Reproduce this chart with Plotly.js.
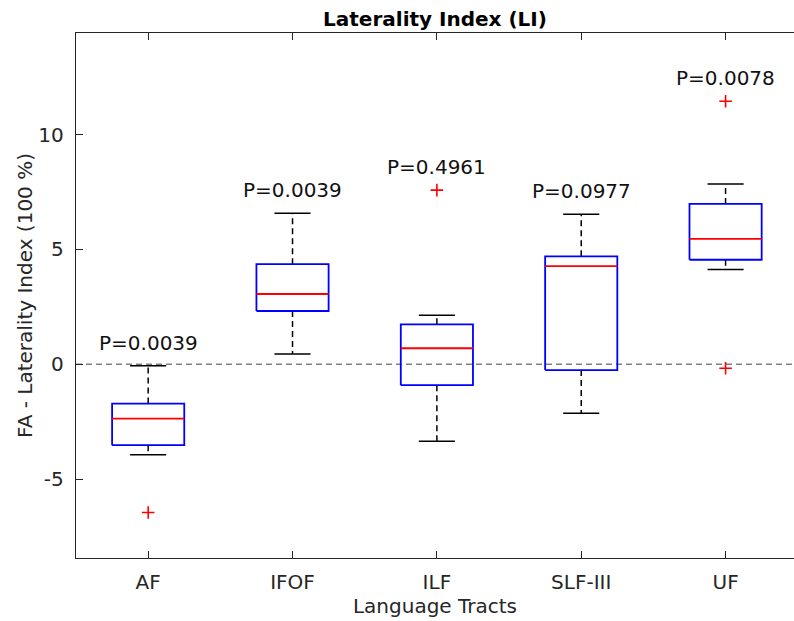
<!DOCTYPE html>
<html>
<head>
<meta charset="utf-8">
<script src="https://cdn.plot.ly/plotly-3.0.1.min.js"></script>
<style>html,body{margin:0;padding:0;background:#fff;}#chart{width:794px;height:621px;}</style>
</head>
<body>
<div id="chart"></div>
<script>
// ---- data ----
const categories = ['AF', 'IFOF', 'ILF', 'SLF-III', 'UF'];
const q1 = [-3.52, 2.32, -0.91, -0.25, 4.55];
const medians = [-2.36, 3.06, 0.70, 4.27, 5.46];
const q3 = [-1.71, 4.36, 1.74, 4.70, 6.98];
const lowerWhisker = [-3.94, 0.45, -3.35, -2.13, 4.13];
const upperWhisker = [-0.06, 6.58, 2.14, 6.53, 7.85];
const outlierCategory = ['AF', 'ILF', 'UF', 'UF'];
const outlierValue = [-6.45, 7.58, 11.45, -0.17];
const pLabels = ['P=0.0039', 'P=0.0039', 'P=0.4961', 'P=0.0977', 'P=0.0078'];
const yTickVals = [-5, 0, 5, 10];
const yTickText = ['-5', '0', '5', '10'];

// ---- build marks ----
const pos = categories.map((c, i) => i + 1);
const halfBox = 0.25, halfCap = 0.125;

const boxX = [], boxY = [], medX = [], medY = [], whX = [], whY = [], capX = [], capY = [];
pos.forEach((p, i) => {
  boxX.push(p - halfBox, p + halfBox, p + halfBox, p - halfBox, p - halfBox, null);
  boxY.push(q1[i], q1[i], q3[i], q3[i], q1[i], null);
  medX.push(p - halfBox, p + halfBox, null);
  medY.push(medians[i], medians[i], null);
  whX.push(p, p, null, p, p, null);
  whY.push(q3[i], upperWhisker[i], null, q1[i], lowerWhisker[i], null);
  capX.push(p - halfCap, p + halfCap, null, p - halfCap, p + halfCap, null);
  capY.push(upperWhisker[i], upperWhisker[i], null, lowerWhisker[i], lowerWhisker[i], null);
});
const outX = outlierCategory.map(c => categories.indexOf(c) + 1);

const traces = [
  {x: whX, y: whY, mode: 'lines', line: {color: '#000', width: 1.5, dash: '6px,4px'}, hoverinfo: 'skip', showlegend: false},
  {x: capX, y: capY, mode: 'lines', line: {color: '#000', width: 1.5}, hoverinfo: 'skip', showlegend: false},
  {x: boxX, y: boxY, mode: 'lines', line: {color: '#0000ff', width: 1.8}, hoverinfo: 'skip', showlegend: false},
  {x: medX, y: medY, mode: 'lines', line: {color: '#ff0000', width: 1.8}, hoverinfo: 'skip', showlegend: false},
  {x: outX, y: outlierValue, mode: 'markers', marker: {symbol: 'cross-thin', size: 9, line: {color: '#ff0000', width: 1.6}}, hoverinfo: 'skip', showlegend: false}
];

// annotation heights: 1 unit above the highest mark of each group
const annotations = pos.map((p, i) => {
  let top = upperWhisker[i];
  outlierValue.forEach((v, k) => { if (outX[k] === p && v > top) top = v; });
  return {x: p, y: top + 1.0, xref: 'x', yref: 'y', text: pLabels[i], showarrow: false,
          yanchor: 'middle', xanchor: 'center', font: {family: 'DejaVu Sans', size: 20, color: '#111'}};
});

const axisColor = '#262626';
const layout = {
  width: 794, height: 621,
  margin: {l: 76, r: 0, t: 33, b: 63},
  paper_bgcolor: '#fff', plot_bgcolor: '#fff',
  font: {family: 'DejaVu Sans', size: 20, color: axisColor},
  title: {text: '<b>Laterality Index (LI)</b>', x: 0.5, xref: 'paper', y: 1 - 19 / 621, yref: 'container', yanchor: 'middle',
          font: {family: 'DejaVu Sans', size: 20, color: '#000'}},
  xaxis: {
    range: [0.5, 5.474], tickvals: pos, ticktext: categories,
    ticks: 'inside', ticklen: 7, tickwidth: 1, tickcolor: axisColor,
    showline: true, linecolor: axisColor, linewidth: 1.3, mirror: 'ticks',
    showgrid: false, zeroline: false, ticklabelstandoff: 6,
    title: {text: 'Language Tracts', standoff: 4, font: {size: 20, color: axisColor}}
  },
  yaxis: {
    range: [-8.43, 14.42], tickvals: yTickVals, ticktext: yTickText,
    ticks: 'inside', ticklen: 7, tickwidth: 1, tickcolor: axisColor,
    showline: true, linecolor: axisColor, linewidth: 1.3,
    showgrid: false, zeroline: false, ticklabelstandoff: 7,
    title: {text: 'FA - Laterality Index (100 %)', standoff: 0, font: {size: 20, color: axisColor}}
  },
  shapes: [{type: 'line', xref: 'paper', x0: 0, x1: 1, yref: 'y', y0: 0, y1: 0,
            line: {color: '#808080', width: 1.5, dash: '6px,4px'}, layer: 'below'}],
  annotations: annotations
};

Plotly.newPlot('chart', traces, layout, {displayModeBar: false, staticPlot: true});
</script>
</body>
</html>
